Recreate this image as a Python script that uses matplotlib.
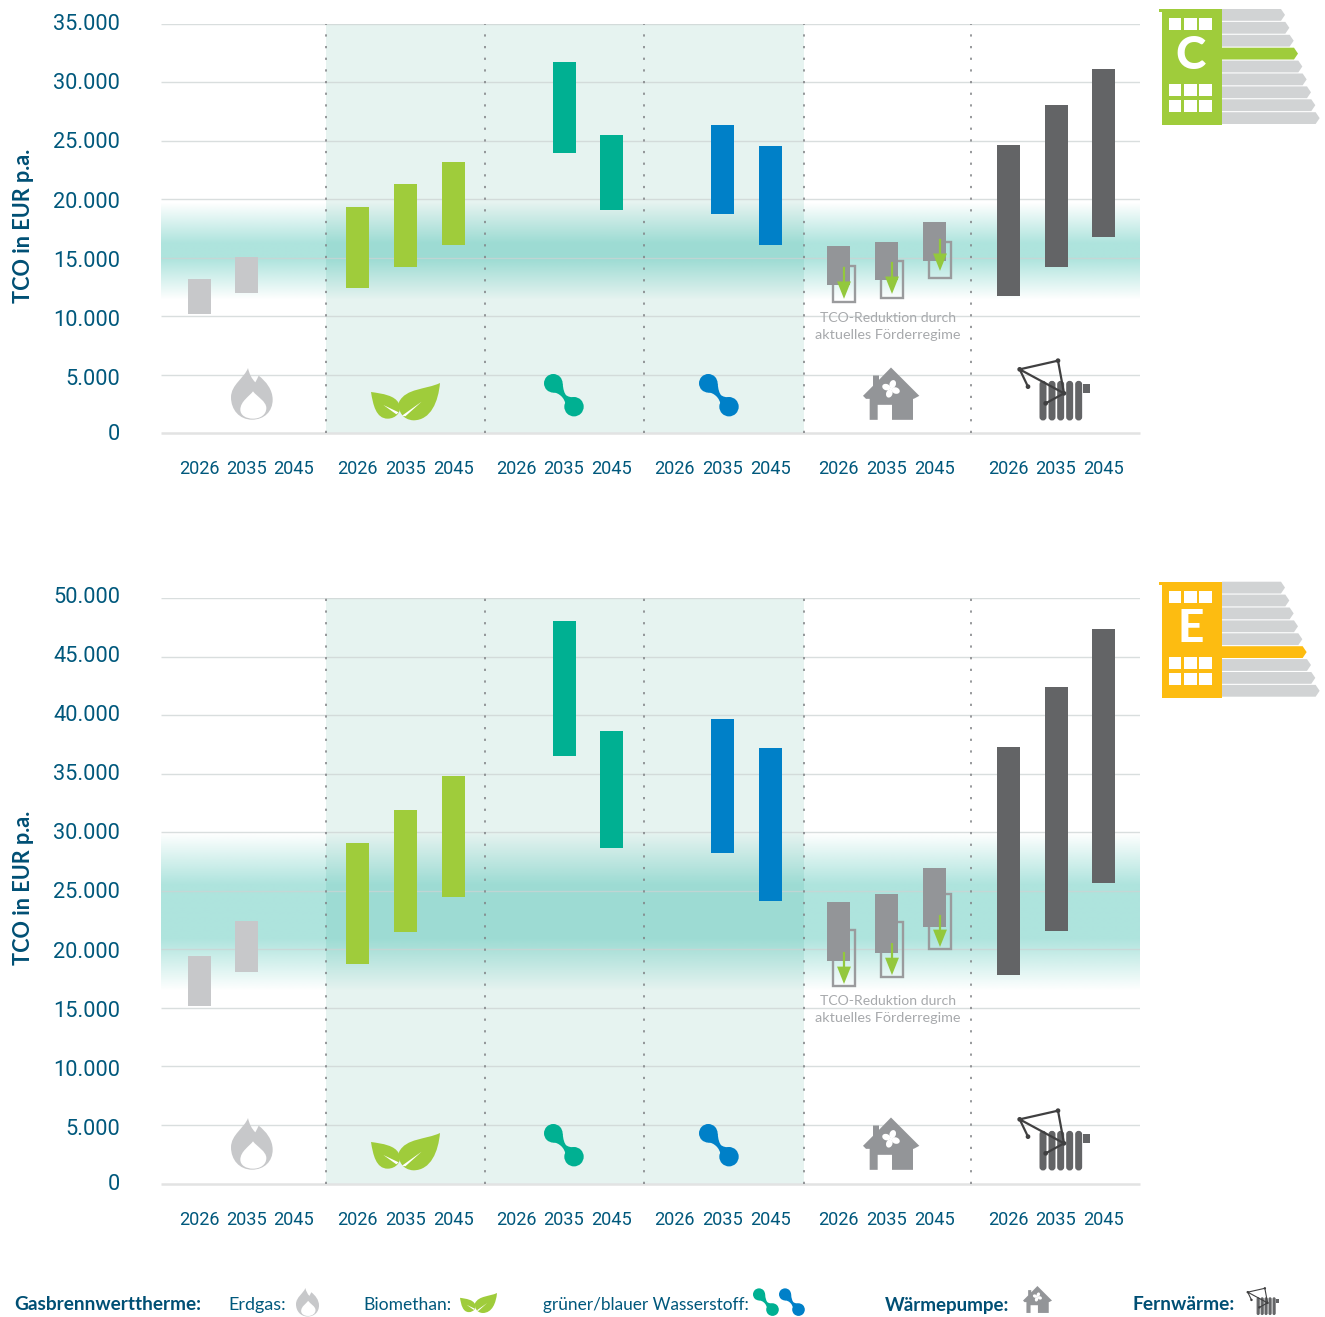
import numpy as np
import matplotlib
matplotlib.use("Agg")
import matplotlib.pyplot as plt
from matplotlib.path import Path
from matplotlib.patches import PathPatch, Rectangle, Circle, Ellipse, FancyBboxPatch, Polygon
from matplotlib.transforms import ScaledTranslation

W, H = 1325, 1317
nan = float("nan")

years = ["2026", "2035", "2045"]
group_names = ["Erdgas", "Biomethan", "Gruener H2", "Blauer H2", "Waermepumpe", "Fernwaerme"]
group_centers = [246.5, 405.5, 564, 722.5, 886.5, 1056]
group_steps = [47, 48, 47.5, 48, 48, 47.5]
separators = [326, 485, 643.5, 804, 971]

# Scenario C
c_low = [[10200, 12000, nan], [12430, 14230, 16100], [nan, 23980, 19100],
         [nan, 18760, 16100], [12690, 13110, 14740], [11740, 14230, 16790]]
c_high = [[13200, 15080, nan], [19360, 21330, 23200], [nan, 31760, 25520],
          [nan, 26370, 24570], [16020, 16360, 18070], [24660, 28080, 31160]]
c_red_low = [11230, 11570, 13280]
c_red_high = [14310, 14740, 16400]
c_arrow_tip = [11500, 11920, 13890]
c_band = [11400, 19700]
c_ticks = [0, 5000, 10000, 15000, 20000, 25000, 30000, 35000]

# Scenario E
e_low = [[15160, 18060, nan], [18750, 21480, 24470], [nan, 36510, 28650],
         [nan, 28220, 24130], [19000, 19690, 21900], [17810, 21560, 25660]]
e_high = [[19430, 22420, nan], [29080, 31900, 34800], [nan, 48040, 38640],
          [nan, 39670, 37190], [24040, 24720, 26940], [37280, 42400, 47350]]
e_red_low = [16870, 17640, 20030]
e_red_high = [21650, 22330, 24720]
e_arrow_tip = [17040, 17800, 20200]
e_band = [16400, 29950]
e_ticks = [0, 5000, 10000, 15000, 20000, 25000, 30000, 35000, 40000, 45000, 50000]

C_GAS = "#c7c8ca"; C_BIO = "#9fcc3b"; C_GH2 = "#00b092"; C_BH2 = "#0080c8"
C_WP = "#939598"; C_FW = "#636466"; C_FW_LINE = "#404041"
group_colors = [C_GAS, C_BIO, C_GH2, C_BH2, C_WP, C_FW]
C_TXT = "#00587c"; C_BOLD = "#004f74"; C_ARROW = "#93c83d"; C_NOTE = "#a7a9ac"
C_LABEL = "#d1d3d4"; C_YEL = "#fdbc11"; C_PANEL = "#e6f3f0"

ROB = ["Roboto", "DejaVu Sans"]
LATO = ["Lato", "DejaVu Sans"]
plt.rcParams["font.family"] = ROB

fig = plt.figure(figsize=(W / 100, H / 100), dpi=100, facecolor="white")
renderer = fig.canvas.get_renderer()


def fit(t, target_px):
    """Scale a text's font size so that its long side measures target_px."""
    bb = t.get_window_extent(renderer)
    t.set_fontsize(t.get_fontsize() * target_px / max(bb.width, bb.height))
    return t


def chart(top_px, bottom_px, ticks, low, high, red_low, red_high, arrow_tip, band, ramp,
          ylab_y, label_top, label_step, label_zero):
    ax = fig.add_axes([161 / W, 1 - bottom_px / H, 979 / W, (bottom_px - top_px) / H])
    for s in ax.spines.values():
        s.set_visible(False)
    ax.axvspan(separators[0], separators[3], color=C_PANEL, lw=0, zorder=0)
    # gradient band
    n = 300
    t = np.linspace(0, 1, n)
    edge = np.clip(np.minimum(t, 1 - t) / ramp, 0, 1)
    alpha = edge * 0.32
    img = np.zeros((n, 2, 4))
    img[..., 0] = 0.0; img[..., 1] = 170 / 255; img[..., 2] = 150 / 255
    img[..., 3] = alpha[:, None]
    ax.imshow(img, extent=[161, 1140, band[0], band[1]], origin="lower", aspect="auto",
              zorder=1, interpolation="bilinear")
    ax.set_xlim(161, 1140)
    ax.set_ylim(0, ticks[-1])
    for v in ticks[1:]:
        ax.axhline(v, color="#cdd3d3", alpha=0.75, lw=1.0, zorder=2, solid_capstyle="butt")
    ax.axhline(0, color="#e2e3e3", lw=1.8, zorder=2, clip_on=False, solid_capstyle="butt")
    for s in separators:
        ax.axvline(s, color="#808285", lw=1.15, ls=(0, (1.4, 5.9)), zorder=3)

    xs, labs = [], []
    for g, c in enumerate(group_centers):
        st = group_steps[g]
        xp = [c - st, c, c + st]
        xs += xp
        labs += years
        bottoms = np.array(low[g], float)
        tops = np.array(high[g], float)
        ax.bar(xp, tops - bottoms, bottom=bottoms, width=23, color=group_colors[g], lw=0, zorder=5)
        if g == 4:
            px_unit = ticks[-1] / (bottom_px - top_px)
            for i, x in enumerate(xp):
                ax.add_patch(Rectangle((x + 5.5 - 11, red_low[i]), 22, red_high[i] - red_low[i],
                                       fill=False, ec="#9a9b9d", lw=1.7, zorder=4))
                ax.annotate("", xy=(x + 5.5, arrow_tip[i]),
                            xytext=(x + 5.5, arrow_tip[i] + 32 * px_unit),
                            arrowprops=dict(width=1.6, headwidth=10, headlength=12.5, shrink=0,
                                            fc=C_ARROW, ec="none"), zorder=6)
    ax.set_xticks(xs, labs)
    ax.set_yticks(ticks, ["0" if v == 0 else f"{v:,}".replace(",", ".") for v in ticks])
    ax.tick_params(axis="x", length=0, pad=19.5, labelsize=13.1, labelcolor=C_TXT)
    ax.tick_params(axis="y", length=0, pad=29.5, labelsize=15.7, labelcolor=C_TXT)
    # the value labels sit on a slightly wider scale than the grid lines
    fig.canvas.draw()
    n_t = len(ticks)
    scale = (bottom_px - top_px) / ticks[-1]
    for i, (v, lab) in enumerate(zip(ticks, ax.get_yticklabels())):
        grid_px = bottom_px - v * scale
        want = label_zero if v == 0 else label_top + (n_t - 1 - i) * label_step
        dy = (grid_px - want) / 100
        lab.set_transform(lab.get_transform() + ScaledTranslation(0, dy, fig.dpi_scale_trans))
    ax.set_ylabel("TCO in EUR p.a.", color=C_BOLD, fontweight="bold", fontsize=15, family=LATO)
    fit(ax.yaxis.label, 154)
    ax.yaxis.set_label_coords((34 - 161) / 979, ylab_y)
    return ax


chart(24, 433.3, c_ticks, c_low, c_high, c_red_low, c_red_high, c_arrow_tip, c_band, 0.42,
      0.508, 22, 59.17, 432)
chart(598, 1183.5, e_ticks, e_low, e_high, e_red_low, e_red_high, e_arrow_tip, e_band, 0.33,
      0.505, 595, 59.1, 1182)

# overlay in pixel coordinates for pictograms and captions
ov = fig.add_axes([0, 0, 1, 1], facecolor="none")
ov.set_xlim(0, W)
ov.set_ylim(H, 0)
ov.axis("off")


def T(pts, ox, oy, s):
    return [(ox + x * s, oy + y * s) for x, y in pts]


def bez(pts, codes, ox, oy, s, color, z=8):
    ov.add_patch(PathPatch(Path(T(pts, ox, oy, s), codes), fc=color, ec="none", lw=0, zorder=z))


M, L, C4, CP = Path.MOVETO, Path.LINETO, Path.CURVE4, Path.CLOSEPOLY


def flame(x0, y0, s):
    pts = [(63, 155), (25, 155), (0, 125), (0, 88), (0, 50), (40, 30), (51, 0),
           (55, 18), (62, 32), (73, 43), (78, 35), (80, 28), (83, 23),
           (105, 40), (125, 65), (125, 95), (125, 130), (100, 155), (63, 155), (63, 155)]
    bez(pts, [M] + [C4] * 18 + [CP], x0, y0, s, C_GAS)
    inner = [(66, 70), (56, 84), (28, 100), (28, 125), (28, 142), (45, 152), (66, 152),
             (88, 152), (106, 140), (106, 120), (106, 100), (78, 86), (66, 70), (66, 70)]
    bez(inner, [M] + [C4] * 12 + [CP], x0, y0, s, "white", 9)


def leaf(x0, y0, s):
    big = [(207, 0), (165, 20), (105, 15), (84, 57), (80, 85), (95, 110), (127, 112),
           (180, 112), (202, 55), (207, 0), (207, 0)]
    bez(big, [M] + [C4] * 9 + [CP], x0, y0, s, C_BIO)
    small = [(0, 27), (35, 32), (72, 37), (84, 62), (95, 85), (75, 107), (50, 107),
             (15, 107), (6, 65), (0, 27), (0, 27)]
    bez(small, [M] + [C4] * 9 + [CP], x0, y0, s, C_BIO)
    ov.add_patch(Polygon(T([(93, 98), (152, 56), (103, 100)], x0, y0, s), fc="white", ec="none", zorder=9))
    ov.add_patch(Polygon(T([(83, 88), (37, 66), (76, 94)], x0, y0, s), fc="white", ec="none", zorder=9))


def blob(x0, y0, s, color):
    ov.add_patch(Circle((x0 + 9.3 * s, y0 + 8.3 * s), 9.3 * s, fc=color, ec="none", zorder=8))
    ov.add_patch(Circle((x0 + 30 * s, y0 + 31.7 * s), 9.7 * s, fc=color, ec="none", zorder=8))
    neck = [(18.7, 8.3), (19, 14), (20.5, 19), (22.5, 20.5), (25, 22), (28, 22.5), (31, 23),
            (22, 31.7), (21.5, 27), (19.5, 23), (17, 21), (15, 19), (12, 17.5), (8.7, 17.3),
            (8.7, 17.3)]
    bez(neck, [M, C4, C4, C4, C4, C4, C4, L, C4, C4, C4, C4, C4, C4, CP], x0, y0, s, color)


def house(x0, y0, s):
    pts = [(84, 0), (169, 85), (152, 94), (150, 94), (150, 157), (87, 157), (87, 112), (44, 112),
           (44, 157), (20, 157), (20, 94), (9, 94), (0, 85), (30, 55), (30, 24), (48, 24), (48, 37), (84, 0)]
    ov.add_patch(Polygon(T(pts, x0, y0, s), fc=C_WP, ec="none", zorder=8))
    cx, cy = x0 + 84 * s, y0 + 64 * s
    for ang in (20, 110, 200, 290):
        a = np.radians(ang)
        ov.add_patch(Ellipse((cx + 15 * s * np.cos(a), cy + 15 * s * np.sin(a)), 25 * s, 19 * s,
                             angle=ang, fc="white", ec="none", zorder=9))
    ov.add_patch(Circle((cx, cy), 5 * s, fc="white", ec="none", zorder=9))


def radiator(x0, y0, s):
    for cx in (75, 102, 128, 155, 182):
        ov.add_patch(FancyBboxPatch((x0 + (cx - 7) * s, y0 + 66 * s), 14 * s, 112 * s,
                                    boxstyle=f"round,pad=0,rounding_size={7 * s}",
                                    fc=C_FW, ec=C_FW, lw=2.5 * s * 2, zorder=8))
    ov.add_patch(Rectangle((x0 + 195 * s, y0 + 72 * s), 20 * s, 28 * s, fc=C_FW, ec="none", zorder=8))
    line = T([(30, 80), (5, 28), (120, 2), (138, 100), (5, 28)], x0, y0, s)
    ov.plot(*zip(*line), color=C_FW_LINE, lw=max(0.8, 4.8 * s), zorder=9, solid_joinstyle="miter")
    tail = T([(138, 100), (83, 130)], x0, y0, s)
    ov.plot(*zip(*tail), color=C_FW_LINE, lw=max(0.8, 4.8 * s), zorder=9)
    for p in [(30, 80), (5, 28), (120, 2), (138, 100), (83, 130)]:
        q = T([p], x0, y0, s)[0]
        ov.add_patch(Circle(q, 7 * s if s > 0.2 else 1.2, fc=C_FW_LINE, ec="none", zorder=9))


for dy in (0, 750):
    flame(231, 368 + dy, 1 / 3)
    leaf(371, 383 + dy, 1 / 3)
    blob(544, 375 + dy, 1, C_GH2)
    blob(699, 375 + dy, 1, C_BH2)
    house(863, 367.5 + dy, 1 / 3)
    radiator(1018, 360 + dy, 1 / 3)

# legend pictograms
flame(296, 1288, 23 / 125)
leaf(460, 1293, 37 / 207)
blob(753, 1289, 0.65, C_GH2)
blob(779, 1289, 0.65, C_BH2)
house(1023, 1286, 29 / 169)
radiator(1247, 1288, 32 / 215)


def energy_label(letter, active, color, y0):
    step = 12.9
    for i in range(9):
        y = y0 + i * step
        tip = 1285 + i * 4.33
        h = 11.8
        pts = [(1222, y), (tip - 4, y), (tip, y + h / 2), (tip - 4, y + h), (1222, y + h)]
        ov.add_patch(Polygon(pts, fc=color if i == active else C_LABEL, ec="none", zorder=7))
    ov.add_patch(Rectangle((1162, y0), 60, 116, fc=color, ec="none", zorder=8))
    ov.add_patch(Rectangle((1158.7, y0), 4, 3, fc=color, ec="none", zorder=8))
    for wy in (9, 75, 91):
        for wx in (1169, 1184.3, 1199.3):
            ov.add_patch(Rectangle((wx, y0 + wy), 12.2, 12, fc="white", ec="none", zorder=9))
    ov.text(1190.5, y0 + 47, letter, color="white", family=LATO, fontweight=900, fontsize=33,
            ha="center", va="center", zorder=10)


energy_label("C", 3, C_BIO, 9)
energy_label("E", 5, C_YEL, 581.7)

for y1, y2 in ((318, 335), (1001, 1018)):
    fit(ov.text(888, y1, "TCO-Reduktion durch", color=C_NOTE, family=LATO, fontsize=12,
                ha="center", va="center", zorder=10), 136)
    fit(ov.text(888, y2, "aktuelles Förderregime", color=C_NOTE, family=LATO, fontsize=12,
                ha="center", va="center", zorder=10), 145)

# bottom legend captions
LEG_Y = 1305
for x, s, w in [(14, "Gasbrennwerttherme:", 188), (885, "Wärmepumpe:", 125), (1133, "Fernwärme:", 103)]:
    fit(ov.text(x, LEG_Y, s, color=C_BOLD, family=LATO, fontweight="bold", fontsize=15,
                ha="left", va="center"), w)
for x, s, w in [(228, "Erdgas:", 58), (363, "Biomethan:", 88), (543, "grüner/blauer Wasserstoff:", 206)]:
    fit(ov.text(x, LEG_Y, s, color=C_TXT, family=LATO, fontsize=15, ha="left", va="center"), w)

fig.savefig("out.png", dpi=100, facecolor="white")
